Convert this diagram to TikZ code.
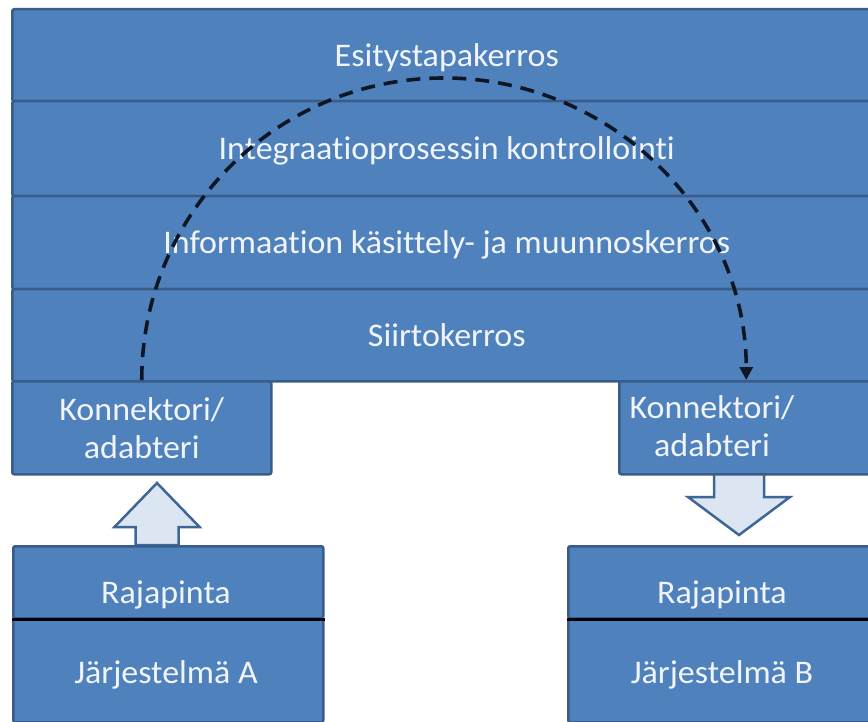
\documentclass[tikz,border=0pt]{standalone}
\usepackage{fontspec}
\setmainfont{Carlito}[Ligatures=NoCommon, FakeStretch=1.03]
\usetikzlibrary{calc,arrows.meta}

\definecolor{layerblue}{HTML}{4F81BD}
\definecolor{edgeblue}{HTML}{385D8A}
\definecolor{labelwhite}{HTML}{F1F5FB}
\definecolor{paleblue}{HTML}{DCE6F2}
\definecolor{dashink}{HTML}{0E1626}

\begin{document}
\begin{tikzpicture}[x=1pt,y=-1pt,
  block/.style={draw=edgeblue, line width=2.5pt, fill=layerblue, rounded corners=2pt,
                anchor=north west, inner sep=0pt},
  bigfont/.style={font=\fontsize{33}{38}\selectfont, text=labelwhite},
  layertext/.style={bigfont, text height=22pt, text depth=0pt},
  lbl/.style={bigfont, anchor=base, inner sep=0pt},
  twoline/.style={bigfont, align=center, inner sep=0pt},
  blockarrow/.style={draw=edgeblue!75!layerblue, line width=2.5pt, fill=paleblue, line join=miter},
  flow/.style={draw=dashink, line width=3.6pt, dash pattern=on 14pt off 9pt,
               -{Triangle[length=13pt,width=13pt]}},
  divider/.style={draw=black, line width=3pt}]

\clip (0,0) rectangle (868,722);
\fill[white] (0,0) rectangle (868,722);

% anchor points of the two block arrows
\coordinate (upTip) at (157,483);
\coordinate (downTip) at (739,535);

% block arrows (drawn first so the box borders lie on top)
\draw[blockarrow] (upTip) -- ++(42.5,44) -- ++(-21,0) -- ++(0,18) -- ++(-43,0)
  -- ++(0,-18) -- ++(-21,0) -- cycle;
\draw[blockarrow] (downTip) -- ++(51,-38) -- ++(-26,0) -- ++(0,-24) -- ++(-50,0)
  -- ++(0,24) -- ++(-26,0) -- cycle;

% layer stack
\node[block, minimum width=869pt, minimum height=92pt, layertext] (pres) at (11,8) {Esitystapakerros};
\node[block, minimum width=869pt, minimum height=95pt, layertext] (ctrl) at (11,100) {Integraatioprosessin kontrollointi};
\node[block, minimum width=869pt, minimum height=93pt, layertext] (info) at (11,195) {Informaation käsittely- ja muunnoskerros};
\node[block, minimum width=869pt, minimum height=92pt, layertext] (trans) at (11,288) {Siirtokerros};

% connectors / adapters
\node[block, minimum width=259pt, minimum height=93pt, twoline] (connA) at (11,380) {Konnektori/\\adabteri};
\node[block, minimum width=254pt, minimum height=93pt] (connB) at (618,380) {};
\node[twoline] (connBtext) at (712,426.5) {Konnektori/\\adabteri};

% system A
\node[block, minimum width=310pt, minimum height=72pt] (rajaA) at (12,545) {};
\node[block, minimum width=310pt, minimum height=104pt] (sysA) at (12,617) {};
\draw[divider] (rajaA.south west) -- (rajaA.south east);
\node[lbl] (rajaAtext) at (166,603) {Rajapinta};
\node[lbl] (sysAtext) at (166,683) {Järjestelmä A};

% system B
\node[block, minimum width=313pt, minimum height=72pt] (rajaB) at (567,545) {};
\node[block, minimum width=313pt, minimum height=104pt] (sysB) at (567,617) {};
\draw[divider] (rajaB.south west) -- (rajaB.south east);
\node[lbl] (rajaBtext) at (722,603) {Rajapinta};
\node[lbl] (sysBtext) at (722,683) {Järjestelmä B};

% dashed flow arc from adapter A over the layers to adapter B
\coordinate (arcTop) at ($(connA.north)!0.5!(connB.north)+(0,-302)$);
\draw[flow] (connA.north)
  .. controls ($(connA.north)+(0,-167)$) and ($(arcTop)+(-167,0)$) .. (arcTop)
  .. controls ($(arcTop)+(167,0)$) and ($(connB.north)+(0,-167)$) .. (connB.north);

\end{tikzpicture}
\end{document}
